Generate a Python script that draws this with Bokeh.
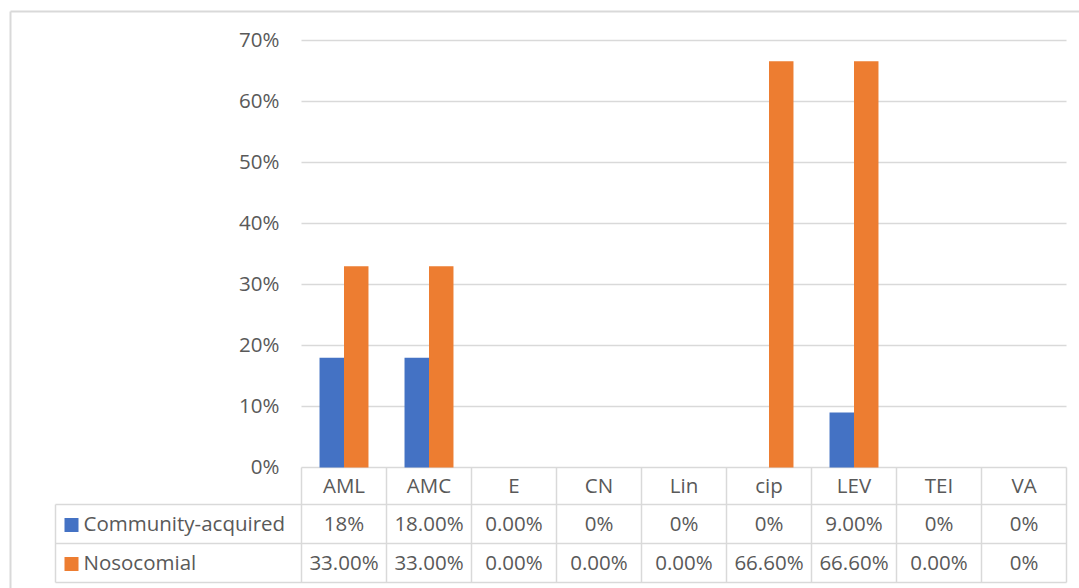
from bokeh.plotting import figure
from bokeh.models import Range1d
from bokeh.core.properties import value
from bokeh.embed import file_html
from bokeh.resources import INLINE

# ---------------- data ----------------
categories = ["AML", "AMC", "E", "CN", "Lin", "cip", "LEV", "TEI", "VA"]
series_names = ["Community-acquired", "Nosocomial"]
community = [18, 18, 0, 0, 0, 0, 9, 0, 0]
nosocomial = [33, 33, 0, 0, 0, 66.6, 66.6, 0, 0]
community_labels = ["18%", "18.00%", "0.00%", "0%", "0%", "0%", "9.00%", "0%", "0%"]
nosocomial_labels = ["33.00%", "33.00%", "0.00%", "0.00%", "0.00%", "66.60%", "66.60%", "0.00%", "0%"]
y_ticks = [0, 10, 20, 30, 40, 50, 60, 70]
y_tick_labels = ["0%", "10%", "20%", "30%", "40%", "50%", "60%", "70%"]

# ---------------- layout helpers ----------------
W, H = 1079, 588
X0, XW = 301, 85      # pixel of plot-area left edge, pixels per category
Y0, YS = 467, 6.1     # pixel of 0 %, pixels per percentage point
TSHIFT = 1.5          # small upward nudge for text


def dx(px):
    return (px - X0) / XW


def dy(py):
    return (Y0 - py) / YS


BLUE, ORANGE = "#4472C4", "#ED7D31"
GRID = "#d9d9d9"
TXT = "#595959"
FONT = value("Open Sans")
FSIZE = value("20.5px")

p = figure(width=W, height=H, output_backend="svg", toolbar_location=None,
           x_range=Range1d(dx(0), dx(W)), y_range=Range1d(dy(H), dy(0)),
           x_axis_location=None, y_axis_location=None, min_border=0,
           background_fill_color="white", border_fill_color="white")
p.grid.visible = False
p.outline_line_color = None

n = len(categories)
xs = [i + 0.5 for i in range(n)]

# gridlines (incl. baseline)
p.segment(x0=[0] * len(y_ticks), x1=[n] * len(y_ticks), y0=y_ticks, y1=y_ticks,
          line_color=GRID, line_width=1.5)

# y tick labels
p.text(x=[dx(279)] * len(y_ticks), y=[t + TSHIFT / YS for t in y_ticks],
       text=y_tick_labels, text_align="right", text_baseline="middle",
       text_font=FONT, text_font_size=FSIZE, text_color=TXT)

# bars
off, bw = 0.144, 0.288
p.vbar(x=[x - off for x in xs], top=community, bottom=0, width=bw,
       fill_color=BLUE, line_color=None)
p.vbar(x=[x + off for x in xs], top=nosocomial, bottom=0, width=bw,
       fill_color=ORANGE, line_color=None)

# data table grid
p.segment(x0=list(range(n + 1)), x1=list(range(n + 1)),
          y0=[dy(467)] * (n + 1), y1=[dy(582)] * (n + 1),
          line_color=GRID, line_width=1.5)
p.segment(x0=[dx(55)], x1=[dx(55)], y0=[dy(504)], y1=[dy(582)],
          line_color=GRID, line_width=1.5)
row_lines = [dy(504), dy(543), dy(582)]
p.segment(x0=[dx(55)] * 3, x1=[n] * 3, y0=row_lines, y1=row_lines,
          line_color=GRID, line_width=1.5)

# table texts
for yy, labels in [(dy(486 - TSHIFT), categories),
                   (dy(523.5 - TSHIFT), community_labels),
                   (dy(562.5 - TSHIFT), nosocomial_labels)]:
    p.text(x=xs, y=[yy] * n, text=labels, text_align="center",
           text_baseline="middle", text_font=FONT, text_font_size=FSIZE,
           text_color=TXT)

# legend keys in table
p.scatter(x=[dx(71)] * 2, y=[dy(524.5), dy(563.5)], marker="square", size=14,
          fill_color=[BLUE, ORANGE], line_color=None)
p.text(x=[dx(83)] * 2, y=[dy(523.5 - TSHIFT), dy(562.5 - TSHIFT)],
       text=series_names, text_align="left", text_baseline="middle",
       text_font=FONT, text_font_size=FSIZE, text_color=TXT)

# chart outer border
p.segment(x0=[dx(10), dx(10)], x1=[dx(10), dx(W)], y0=[dy(11), dy(11)],
          y1=[dy(H), dy(11)], line_color=GRID, line_width=2)

open("out.html", "w").write(file_html(p, INLINE))
